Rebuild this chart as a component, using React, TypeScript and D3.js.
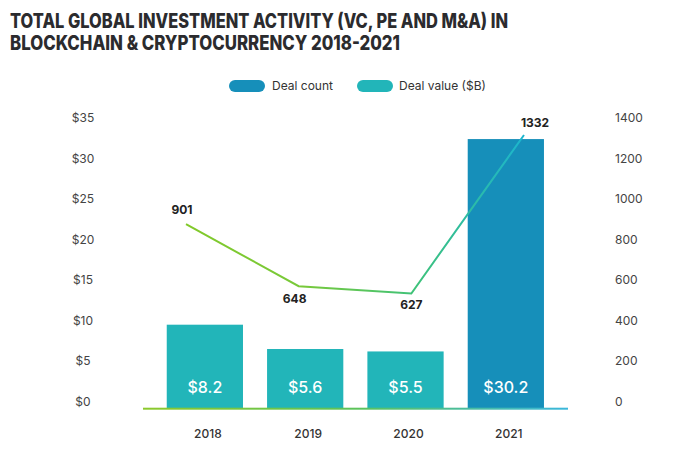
import React from "react";
import * as d3 from "d3";

const years = ["2018", "2019", "2020", "2021"];
const dealValueLabels = ["$8.2", "$5.6", "$5.5", "$30.2"];
// bar heights as drawn in the picture
const dealValueBars = [9.5, 6.5, 6.2, 32.4];
const dealCountLabels = ["901", "648", "627", "1332"];
// line positions as drawn in the picture
const dealCountLine = [876, 570, 534, 1316];
const leftTicks = [0, 5, 10, 15, 20, 25, 30, 35];
const rightTicks = [0, 200, 400, 600, 800, 1000, 1200, 1400];
const titleLines = [
  "TOTAL GLOBAL INVESTMENT ACTIVITY (VC, PE AND M&A) IN",
  "BLOCKCHAIN & CRYPTOCURRENCY 2018-2021",
];
const titleWidths = [498, 390];

const W = 680;
const H = 452;
const TEAL = "#22b5b9";
const BLUE = "#168fba";
const FONT = "Inter, 'Open Sans', sans-serif";

export default function App() {
  const yL = d3.scaleLinear().domain([0, 35]).range([401.7, 118]);
  const yR = d3.scaleLinear().domain([0, 1400]).range([401.7, 118]);
  const xB = d3.scaleBand().domain(years).range([154.7, 556]).paddingInner(0.24).paddingOuter(0.12);
  const xP = d3.scalePoint().domain(years).range([186, 524]);
  const baseY = yL(0) + 6.5;

  const line = d3
    .line<number>()
    .x((_, i) => xP(years[i]) as number)
    .y((d) => yR(d));

  const labelOffsets = [
    [-4, -14],
    [-4, 13],
    [0, 11],
    [11, -12],
  ];

  return (
    <svg width={W} height={H} style={{ position: "absolute", left: 0, top: 0, background: "#fff" }}>
      <defs>
        <linearGradient id="lineGrad" gradientUnits="userSpaceOnUse" x1={186} y1={0} x2={524} y2={0}>
          <stop offset="0" stopColor="#82c92a" />
          <stop offset="0.35" stopColor="#78c93a" />
          <stop offset="0.68" stopColor="#3ec27a" />
          <stop offset="1" stopColor="#1cb6cf" />
        </linearGradient>
        <linearGradient id="baseGrad" gradientUnits="userSpaceOnUse" x1={143} y1={0} x2={568} y2={0}>
          <stop offset="0" stopColor="#8dc92c" />
          <stop offset="0.5" stopColor="#5cc35a" />
          <stop offset="1" stopColor="#3ab7dc" />
        </linearGradient>
      </defs>

      {/* Title */}
      {titleLines.map((t, i) => (
        <text
          key={i}
          x={10}
          y={28 + i * 22}
          fontFamily={FONT}
          fontWeight={800}
          fontSize={20}
          fill="#2b2b2e"
          textLength={titleWidths[i]}
          lengthAdjust="spacingAndGlyphs"
        >
          {t}
        </text>
      ))}

      {/* Legend */}
      <rect x={229} y={80} width={36} height={12} rx={6} fill={BLUE} />
      <text x={272} y={90} fontFamily={FONT} fontSize={12} fill="#333">
        Deal count
      </text>
      <rect x={357} y={80} width={36} height={12} rx={6} fill={TEAL} />
      <text x={399} y={90} fontFamily={FONT} fontSize={12} fill="#333">
        Deal value ($B)
      </text>

      {/* Left axis */}
      {leftTicks.map((t) => (
        <text
          key={t}
          x={83}
          y={yL(t)}
          dy="0.35em"
          textAnchor="middle"
          fontFamily={FONT}
          fontSize={12}
          fill="#444"
        >
          {`$${t}`}
        </text>
      ))}

      {/* Right axis */}
      {rightTicks.map((t) => (
        <text key={t} x={615} y={yR(t)} dy="0.35em" fontFamily={FONT} fontSize={12} fill="#444">
          {t}
        </text>
      ))}

      {/* Bars */}
      {years.map((y, i) => (
        <g key={y}>
          <rect
            x={xB(y)}
            y={yL(dealValueBars[i])}
            width={xB.bandwidth()}
            height={baseY - yL(dealValueBars[i])}
            fill={i === years.length - 1 ? BLUE : TEAL}
          />
          <text
            x={(xB(y) as number) + xB.bandwidth() / 2}
            y={393}
            textAnchor="middle"
            fontFamily={FONT}
            fontWeight={500}
            fontSize={16}
            fill="#fff"
          >
            {dealValueLabels[i]}
          </text>
          <text
            x={(xB(y) as number) + xB.bandwidth() / 2 + 3}
            y={434}
            dy="0.35em"
            textAnchor="middle"
            fontFamily={FONT}
            fontWeight={500}
            fontSize={12}
            fill="#333"
          >
            {y}
          </text>
        </g>
      ))}

      {/* Baseline */}
      <rect x={143} y={baseY - 0.5} width={425} height={2} fill="url(#baseGrad)" />

      {/* Line */}
      <path d={line(dealCountLine) || ""} fill="none" stroke="url(#lineGrad)" strokeWidth={2} />
      {dealCountLine.map((v, i) => (
        <text
          key={i}
          x={(xP(years[i]) as number) + labelOffsets[i][0]}
          y={yR(v) + labelOffsets[i][1]}
          dy="0.35em"
          textAnchor="middle"
          fontFamily={FONT}
          fontWeight={700}
          fontSize={12}
          fill="#222"
        >
          {dealCountLabels[i]}
        </text>
      ))}
    </svg>
  );
}
